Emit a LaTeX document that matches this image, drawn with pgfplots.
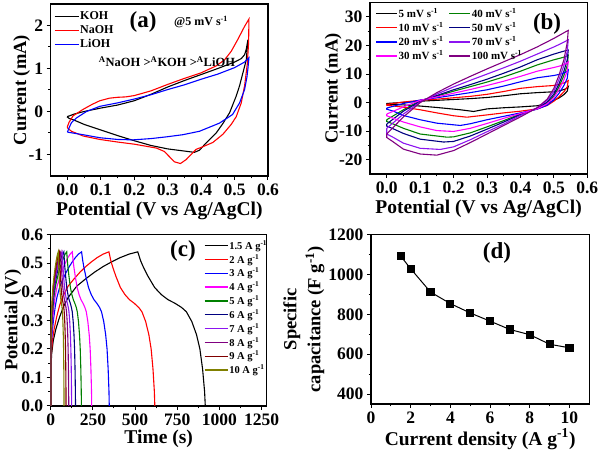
\documentclass[border=0pt]{standalone}
\usepackage{fontspec}
\setmainfont{Liberation Serif}
\usepackage{pgfplots}
\pgfplotsset{compat=1.18}
\definecolor{cgreen}{RGB}{0,128,0}
\definecolor{cnavy}{RGB}{0,0,128}
\definecolor{cviolet}{RGB}{140,20,240}
\definecolor{cpurple}{RGB}{128,0,128}
\definecolor{cwine}{RGB}{128,0,0}
\definecolor{colive}{RGB}{128,128,0}
\definecolor{cmag}{RGB}{255,0,255}
\pgfplotsset{
 myaxis/.style={
  scale only axis,
  axis line style={line width=1.2pt},
  tick align=outside,
  xtick pos=bottom, ytick pos=left,
  major tick length=4pt, minor tick length=2.5pt,
  every tick/.style={line width=1pt, black},
  minor x tick num=1, minor y tick num=1,
  tick label style={font=\fontsize{17.5}{17.5}\selectfont\bfseries},
  /pgf/number format/assume math mode=true,
  /pgf/number format/1000 sep={},
  xticklabel={\bfseries\pgfmathprintnumber[assume math mode=true]{\tick}},
  yticklabel={\bfseries\pgfmathprintnumber[assume math mode=true]{\tick}},
  scaled ticks=false,
  xlabel style={font=\bfseries\fontsize{19.5}{19.5}\selectfont, anchor=center},
  ylabel style={font=\bfseries\fontsize{18.5}{24}\selectfont, anchor=center},
  every axis plot/.append style={line width=1.1pt},
  legend style={draw=none, fill=none, row sep=1.5pt, nodes={inner sep=1pt}},
  legend cell align=left,
 }
}
\begin{document}
\begin{tikzpicture}
\useasboundingbox (0,0) rectangle (600pt,452pt);
% ---------------- (a)
\begin{axis}[myaxis, at={(50.7pt,276pt)}, anchor=south west, width=217.3pt, height=172pt,
  xmin=-0.05, xmax=0.6, ymin=-1.5, ymax=2.5,
  xtick={0,0.1,...,0.6}, ytick={-1,0,1,2},
  xticklabel style={/pgf/number format/.cd, fixed, fixed zerofill, precision=1},
  xlabel={Potential (V vs Ag/AgCl)}, ylabel={Current (mA)},
  xlabel style={at={(axis description cs:0.5,-0.203)}},
  ylabel style={at={(axis description cs:-0.133,0.5)}},
  legend style={at={(axis description cs:0.0,0.975)}, anchor=north west, row sep=2.5pt, font=\bfseries\fontsize{12}{12}\selectfont},
  legend image code/.code={\draw[#1, line width=1.3pt] (0pt,0pt) -- (24pt,0pt);}]
\addplot[black] coordinates {(0,-0.12) (0.02,-0.06) (0.05,0.0) (0.1,0.08) (0.15,0.15) (0.2,0.25) (0.25,0.4) (0.3,0.57) (0.35,0.72) (0.4,0.86) (0.45,1.0) (0.5,1.15) (0.52,1.23) (0.53,1.32) (0.535,1.45) (0.54,1.67) (0.535,1.2) (0.525,0.9) (0.515,0.6) (0.505,0.36) (0.485,-0.03) (0.465,-0.28) (0.445,-0.5) (0.415,-0.73) (0.395,-0.9) (0.38,-0.95) (0.35,-0.92) (0.3,-0.87) (0.25,-0.79) (0.2,-0.68) (0.15,-0.56) (0.1,-0.43) (0.05,-0.3) (0.02,-0.2) (0.005,-0.16) (0,-0.13) (0.003,-0.1)};
\addplot[red] coordinates {(0,-0.35) (0.005,-0.25) (0.017,-0.1) (0.047,0.05) (0.075,0.17) (0.097,0.25) (0.126,0.31) (0.15,0.33) (0.175,0.34) (0.2,0.37) (0.25,0.48) (0.3,0.63) (0.35,0.77) (0.4,0.9) (0.445,1.06) (0.47,1.2) (0.49,1.4) (0.51,1.68) (0.53,1.98) (0.543,2.15) (0.542,1.6) (0.538,1.1) (0.53,0.6) (0.52,0.2) (0.505,-0.12) (0.49,-0.3) (0.465,-0.53) (0.435,-0.72) (0.405,-0.82) (0.385,-0.88) (0.37,-1.0) (0.355,-1.12) (0.338,-1.21) (0.32,-1.17) (0.305,-1.05) (0.29,-0.93) (0.266,-0.85) (0.2,-0.76) (0.15,-0.71) (0.097,-0.65) (0.047,-0.57) (0.012,-0.46) (0,-0.38) (0,-0.35)};
\addplot[blue] coordinates {(0,-0.48) (0.005,-0.38) (0.012,-0.26) (0.027,-0.15) (0.057,0.0) (0.097,0.12) (0.15,0.2) (0.2,0.29) (0.25,0.39) (0.3,0.51) (0.35,0.62) (0.4,0.75) (0.45,0.87) (0.5,1.02) (0.53,1.15) (0.543,1.25) (0.54,1.0) (0.537,0.8) (0.53,0.51) (0.515,0.2) (0.494,-0.07) (0.455,-0.27) (0.395,-0.46) (0.345,-0.54) (0.296,-0.59) (0.25,-0.63) (0.196,-0.66) (0.15,-0.65) (0.097,-0.61) (0.047,-0.54) (0,-0.48)};
\legend{KOH, NaOH, LiOH}
\node[font=\bfseries\fontsize{23}{23}\selectfont] at (rel axis cs:0.425,0.895) {(a)};
\node[font=\bfseries\fontsize{12}{12}\selectfont] at (rel axis cs:0.692,0.895) {@5 mV s\textsuperscript{-1}};
\node[font=\bfseries\fontsize{12.5}{12.5}\selectfont] at (rel axis cs:0.535,0.663) {\textsuperscript{A}NaOH >\textsuperscript{A}KOH >\textsuperscript{A}LiOH};
\end{axis}
% ---------------- (b)
\begin{axis}[myaxis, at={(370pt,278pt)}, anchor=south west, width=217.3pt, height=171.3pt,
  xmin=-0.05, xmax=0.6, ymin=-25, ymax=35,
  xtick={0,0.1,...,0.6}, ytick={-20,-10,0,10,20,30},
  xticklabel style={/pgf/number format/.cd, fixed, fixed zerofill, precision=1},
  xlabel={Potential (V vs Ag/AgCl)}, ylabel={Current (mA)},
  xlabel style={at={(axis description cs:0.5,-0.206)}},
  ylabel style={at={(axis description cs:-0.169,0.5)}},
  legend columns=2,
  legend style={at={(axis description cs:0.01,0.985)}, anchor=north west, font=\bfseries\fontsize{11}{11}\selectfont, /tikz/every even column/.append style={column sep=4pt}},
  legend image code/.code={\draw[#1, line width=1.3pt] (0pt,0pt) -- (21pt,0pt);}]
\addplot[black] coordinates {(0,-0.3) (0.05,0.1) (0.1,0.5) (0.15,0.8) (0.2,1.1) (0.25,1.4) (0.3,1.8) (0.35,2.4) (0.4,3.1) (0.45,3.5) (0.5,3.8) (0.52,4.2) (0.535,4.8) (0.543,5.6) (0.54,4.0) (0.53,2.8) (0.515,1.6) (0.5,0.8) (0.48,-0.3) (0.45,-1.1) (0.4,-1.5) (0.35,-1.8) (0.3,-2.2) (0.26,-3.1) (0.22,-2.5) (0.15,-1.7) (0.1,-1.2) (0.05,-0.8) (0,-0.5) (0,-0.3)};
\addplot[cgreen] coordinates {(0,-6.0) (0.05,-2.5) (0.1,0.7) (0.15,2.3) (0.2,4.0) (0.25,5.6) (0.3,7.2) (0.35,9.0) (0.4,11.0) (0.45,13.2) (0.5,15.0) (0.52,15.6) (0.535,16.1) (0.543,16.6) (0.54,13.0) (0.53,9.5) (0.515,5.5) (0.5,2.3) (0.48,-0.2) (0.45,-2.2) (0.4,-4.0) (0.35,-6.3) (0.3,-8.5) (0.25,-10.6) (0.2,-12.0) (0.18,-12.1) (0.1,-11.0) (0.05,-9.0) (0.02,-7.5) (0,-6.6) (0,-6.0)};
\addplot[red] coordinates {(0,-0.6) (0.05,0.2) (0.1,0.8) (0.15,1.2) (0.2,1.7) (0.25,2.2) (0.3,2.9) (0.35,3.9) (0.4,5.0) (0.45,5.6) (0.5,6.0) (0.52,6.5) (0.535,7.1) (0.543,7.7) (0.54,5.5) (0.53,3.8) (0.515,2.0) (0.5,0.5) (0.48,-1.0) (0.45,-2.2) (0.4,-3.0) (0.35,-3.6) (0.3,-4.3) (0.24,-5.1) (0.2,-4.6) (0.15,-3.6) (0.1,-2.5) (0.05,-1.6) (0,-0.9) (0,-0.6)};
\addplot[cnavy] coordinates {(0,-7.5) (0.05,-3.0) (0.1,0.5) (0.15,2.5) (0.2,4.5) (0.25,6.3) (0.3,8.2) (0.35,10.3) (0.4,12.5) (0.45,15.0) (0.5,17.0) (0.52,17.7) (0.535,18.2) (0.543,18.4) (0.54,15.0) (0.53,11.0) (0.515,6.5) (0.5,3.0) (0.48,0.2) (0.45,-2.0) (0.4,-4.2) (0.35,-6.8) (0.3,-9.3) (0.25,-11.7) (0.2,-13.6) (0.17,-13.8) (0.1,-12.8) (0.05,-10.8) (0.02,-9.2) (0,-8.2) (0,-7.5)};
\addplot[blue] coordinates {(0,-1.9) (0.05,-0.3) (0.1,0.9) (0.15,1.7) (0.2,2.6) (0.25,3.5) (0.3,4.5) (0.35,5.8) (0.4,7.3) (0.45,8.7) (0.5,9.5) (0.52,10.0) (0.535,10.6) (0.543,11.4) (0.54,8.5) (0.53,6.0) (0.515,3.2) (0.5,1.0) (0.48,-0.9) (0.45,-2.3) (0.4,-3.6) (0.35,-4.8) (0.3,-6.0) (0.25,-7.4) (0.22,-8.0) (0.15,-7.2) (0.1,-6.0) (0.05,-4.5) (0.02,-3.0) (0,-2.3) (0,-1.9)};
\addplot[cviolet] coordinates {(0,-9.0) (0.05,-4.0) (0.1,0.2) (0.15,3.0) (0.2,5.5) (0.25,7.8) (0.3,10.0) (0.35,12.2) (0.4,14.5) (0.45,17.0) (0.5,19.5) (0.52,20.6) (0.535,21.5) (0.543,22.0) (0.54,18.0) (0.53,13.0) (0.515,8.0) (0.5,4.0) (0.48,0.8) (0.45,-1.8) (0.4,-4.5) (0.35,-7.5) (0.3,-10.2) (0.25,-13.0) (0.2,-15.5) (0.16,-16.4) (0.1,-16.0) (0.05,-14.2) (0.02,-12.2) (0,-11.0) (0,-9.0)};
\addplot[cmag] coordinates {(0,-4.0) (0.05,-1.5) (0.1,0.8) (0.15,2.0) (0.2,3.3) (0.25,4.6) (0.3,6.0) (0.35,7.5) (0.4,9.2) (0.45,11.0) (0.5,12.3) (0.52,12.9) (0.535,13.6) (0.543,14.3) (0.54,11.0) (0.53,8.0) (0.515,4.5) (0.5,1.8) (0.48,-0.4) (0.45,-2.2) (0.4,-3.8) (0.35,-5.5) (0.3,-7.3) (0.25,-9.0) (0.2,-10.1) (0.15,-9.8) (0.1,-8.5) (0.05,-6.8) (0.02,-5.5) (0,-4.6) (0,-4.0)};
\addplot[cpurple] coordinates {(0,-11.0) (0.05,-5.0) (0.1,0.0) (0.15,3.5) (0.2,6.5) (0.25,9.2) (0.3,11.8) (0.35,14.3) (0.4,16.8) (0.45,19.5) (0.5,22.5) (0.52,23.8) (0.535,24.8) (0.543,25.3) (0.54,21.0) (0.53,15.0) (0.515,9.5) (0.5,5.0) (0.48,1.2) (0.45,-1.8) (0.4,-5.0) (0.35,-8.0) (0.3,-11.0) (0.25,-14.0) (0.2,-16.8) (0.15,-18.4) (0.1,-18.0) (0.05,-16.3) (0.02,-13.8) (0,-12.2) (0,-11.0)};
\legend{5 mV s\textsuperscript{-1}, 40 mV s\textsuperscript{-1}, 10 mV s\textsuperscript{-1}, 50 mV s\textsuperscript{-1}, 20 mV s\textsuperscript{-1}, 70 mV s\textsuperscript{-1}, 30 mV s\textsuperscript{-1}, 100 mV s\textsuperscript{-1}}
\node[font=\bfseries\fontsize{23}{23}\selectfont] at (rel axis cs:0.815,0.876) {(b)};
\end{axis}
% ---------------- (c)
\begin{axis}[myaxis, at={(50.7pt,46pt)}, anchor=south west, width=216pt, height=171.3pt,
  xmin=0, xmax=1280, ymin=0, ymax=0.6,
  xtick={0,250,...,1250}, ytick={0,0.1,...,0.6},
  yticklabel style={/pgf/number format/.cd, fixed, fixed zerofill, precision=1},
  xlabel={Time (s)}, ylabel={Potential (V)},
  xlabel style={at={(axis description cs:0.5,-0.194)}},
  ylabel style={at={(axis description cs:-0.175,0.5)}},
  legend style={at={(axis description cs:0.695,0.985)}, anchor=north west, font=\bfseries\fontsize{10.5}{10.5}\selectfont},
  legend image code/.code={\draw[#1, line width=1.3pt] (0pt,0pt) -- (23pt,0pt);}]
\addplot[black] coordinates {(0,0) (1.5,0.12) (5.2,0.18) (15.5,0.23) (31,0.27) (51.6,0.31) (77.4,0.35) (103.2,0.38) (154.8,0.42) (206.4,0.445) (258,0.468) (309.6,0.488) (361.2,0.505) (412.8,0.52) (464.4,0.532) (516,0.54) (532,0.51) (548,0.488) (576,0.455) (616,0.415) (656,0.39) (696,0.372) (736,0.36) (776,0.345) (804,0.33) (836,0.296) (864,0.25) (884,0.2) (900,0.13) (912,0.05) (916,0)};
\addplot[red] coordinates {(0,0) (1.0,0.12) (3.5,0.18) (10.4,0.23) (20.7,0.27) (34.5,0.31) (51.8,0.35) (69,0.38) (103.5,0.42) (138,0.445) (172.5,0.468) (207,0.488) (241.5,0.505) (276,0.52) (310.5,0.532) (345,0.54) (355.9,0.51) (366.8,0.488) (385.8,0.455) (413,0.415) (440.2,0.39) (467.4,0.372) (494.6,0.36) (521.8,0.345) (540.8,0.33) (562.6,0.296) (581.6,0.25) (595.2,0.2) (606.1,0.13) (614.3,0.05) (617,0)};
\addplot[blue] coordinates {(0,0) (0.5,0.12) (1.8,0.18) (5.5,0.23) (11,0.27) (18.3,0.31) (27.5,0.35) (36.6,0.38) (54.9,0.42) (73.2,0.445) (91.5,0.468) (109.8,0.488) (128.1,0.505) (146.4,0.52) (164.7,0.532) (183,0.54) (189.6,0.51) (196.1,0.488) (207.6,0.455) (224,0.415) (240.4,0.39) (256.8,0.372) (273.2,0.36) (289.6,0.345) (301.1,0.33) (314.2,0.296) (325.7,0.25) (333.9,0.2) (340.4,0.13) (345.4,0.05) (347,0)};
\addplot[cmag] coordinates {(0,0) (0.4,0.12) (1.3,0.18) (3.8,0.23) (7.7,0.27) (12.8,0.31) (19.2,0.35) (25.6,0.38) (38.4,0.42) (51.2,0.445) (64,0.468) (76.8,0.488) (89.6,0.505) (102.4,0.52) (115.2,0.532) (128,0.54) (132.6,0.51) (137.2,0.488) (145.3,0.455) (156.8,0.415) (168.3,0.39) (179.8,0.372) (191.3,0.36) (202.8,0.345) (210.8,0.33) (220,0.296) (228.1,0.25) (233.8,0.2) (238.4,0.13) (241.9,0.05) (243,0)};
\addplot[cgreen] coordinates {(0,0) (0.3,0.12) (1.0,0.18) (2.9,0.23) (5.7,0.27) (9.5,0.31) (14.3,0.35) (19,0.38) (28.5,0.42) (38,0.445) (47.5,0.468) (57,0.488) (66.5,0.505) (76,0.52) (85.5,0.532) (95,0.54) (98.5,0.51) (102,0.488) (108.1,0.455) (116.8,0.415) (125.5,0.39) (134.2,0.372) (142.9,0.36) (151.6,0.345) (157.6,0.33) (164.6,0.296) (170.7,0.25) (175,0.2) (178.5,0.13) (181.1,0.05) (182,0)};
\addplot[cnavy] coordinates {(0,0) (0.2,0.12) (0.8,0.18) (2.3,0.23) (4.7,0.27) (7.8,0.31) (11.7,0.35) (15.6,0.38) (23.4,0.42) (31.2,0.445) (39,0.468) (46.8,0.488) (54.6,0.505) (62.4,0.52) (70.2,0.532) (78,0.54) (80.8,0.51) (83.5,0.488) (88.4,0.455) (95.3,0.415) (102.2,0.39) (109.1,0.372) (116,0.36) (122.9,0.345) (127.7,0.33) (133.2,0.296) (138,0.25) (141.5,0.2) (144.2,0.13) (146.3,0.05) (147,0)};
\addplot[cviolet] coordinates {(0,0) (0.2,0.12) (0.7,0.18) (2,0.23) (4.1,0.27) (6.8,0.31) (10.2,0.35) (13.6,0.38) (20.4,0.42) (27.2,0.445) (34,0.468) (40.8,0.488) (47.6,0.505) (54.4,0.52) (61.2,0.532) (68,0.54) (70.2,0.51) (72.5,0.488) (76.4,0.455) (82,0.415) (87.6,0.39) (93.2,0.372) (98.8,0.36) (104.4,0.345) (108.3,0.33) (112.8,0.296) (116.7,0.25) (119.5,0.2) (121.8,0.13) (123.4,0.05) (124,0)};
\addplot[cpurple] coordinates {(0,0) (0.2,0.12) (0.6,0.18) (1.8,0.23) (3.6,0.27) (6,0.31) (9,0.35) (12,0.38) (18,0.42) (24,0.445) (30,0.468) (36,0.488) (42,0.505) (48,0.52) (54,0.532) (60,0.54) (61.9,0.51) (63.8,0.488) (67.1,0.455) (71.8,0.415) (76.5,0.39) (81.2,0.372) (85.9,0.36) (90.6,0.345) (93.8,0.33) (97.6,0.296) (100.9,0.25) (103.2,0.2) (105.1,0.13) (106.5,0.05) (107,0)};
\addplot[cwine] coordinates {(0,0) (0.2,0.12) (0.5,0.18) (1.6,0.23) (3.1,0.27) (5.2,0.31) (7.8,0.35) (10.4,0.38) (15.6,0.42) (20.8,0.445) (26,0.468) (31.2,0.488) (36.4,0.505) (41.6,0.52) (46.8,0.532) (52,0.54) (53.6,0.51) (55.1,0.488) (57.9,0.455) (61.8,0.415) (65.7,0.39) (69.6,0.372) (73.5,0.36) (77.4,0.345) (80.1,0.33) (83.2,0.296) (85.9,0.25) (87.9,0.2) (89.4,0.13) (90.6,0.05) (91,0)};
\addplot[colive] coordinates {(0,0) (0.1,0.12) (0.5,0.18) (1.4,0.23) (2.7,0.27) (4.5,0.31) (6.8,0.35) (9,0.38) (13.5,0.42) (18,0.445) (22.5,0.468) (27,0.488) (31.5,0.505) (36,0.52) (40.5,0.532) (45,0.54) (46.4,0.51) (47.7,0.488) (50.1,0.455) (53.5,0.415) (56.9,0.39) (60.3,0.372) (63.7,0.36) (67.1,0.345) (69.5,0.33) (72.2,0.296) (74.6,0.25) (76.3,0.2) (77.6,0.13) (78.7,0.05) (79,0)};
\legend{1.5 A g\textsuperscript{-1}, 2 A g\textsuperscript{-1}, 3 A g\textsuperscript{-1}, 4 A g\textsuperscript{-1}, 5 A g\textsuperscript{-1}, 6 A g\textsuperscript{-1}, 7 A g\textsuperscript{-1}, 8 A g\textsuperscript{-1}, 9 A g\textsuperscript{-1}, 10 A g\textsuperscript{-1}}
\node[font=\bfseries\fontsize{23}{23}\selectfont] at (rel axis cs:0.612,0.905) {(c)};
\end{axis}
% ---------------- (d)
\begin{axis}[myaxis, at={(371pt,48pt)}, anchor=south west, width=218.3pt, height=169.3pt,
  xmin=0, xmax=11, ymin=350, ymax=1200,
  xtick={0,2,...,10}, ytick={400,600,...,1200},
  xlabel={Current density (A g\textsuperscript{-1})},
  ylabel={Specific\\capacitance (F g\textsuperscript{-1})},
  xlabel style={at={(axis description cs:0.5,-0.207)}},
  ylabel style={align=center, at={(axis description cs:-0.307,0.5)}}]
\addplot[black, line width=1pt, mark=square*, mark size=3.6pt] coordinates {(1.5,1092) (2,1029) (3,912) (4,854) (5,807) (6,766) (7,724) (8,698) (9,650) (10,632)};
\node[font=\bfseries\fontsize{23}{23}\selectfont] at (rel axis cs:0.577,0.892) {(d)};
\end{axis}
\end{tikzpicture}
\end{document}
